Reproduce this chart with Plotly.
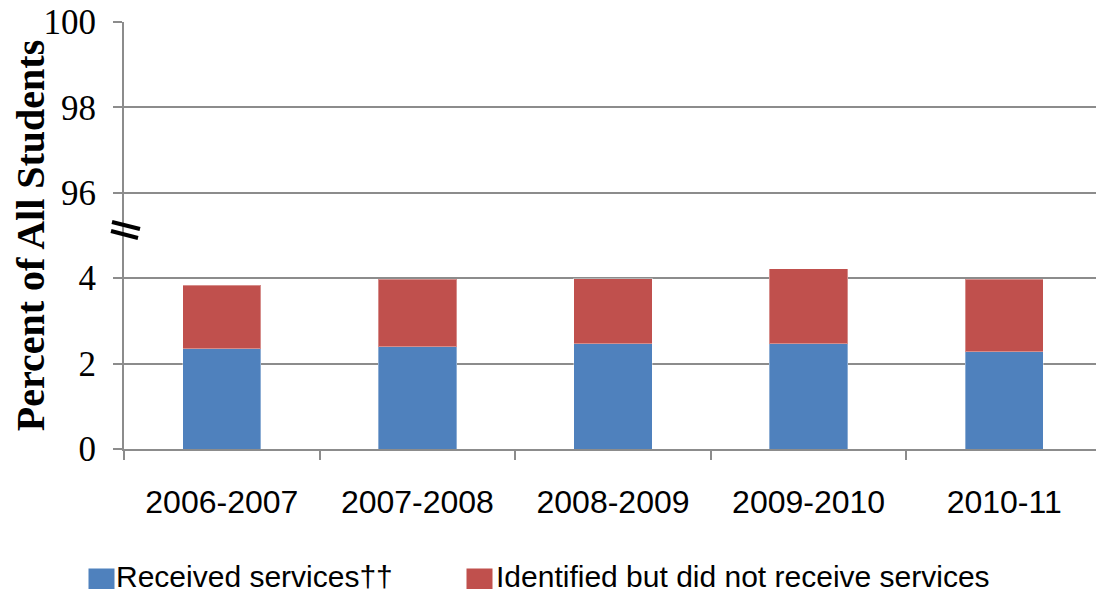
import plotly.graph_objects as go

# school years on the x axis
years = ["2006-2007", "2007-2008", "2008-2009", "2009-2010", "2010-11"]
received = [2.35, 2.40, 2.47, 2.47, 2.28]
not_received = [1.49, 1.58, 1.52, 1.75, 1.70]

names = ["Received services\u2020\u2020", "Identified but did not receive services"]
colors = ["#4F81BD", "#C0504D"]

# broken y axis: 96-100 is drawn just above 0-4
tick_pos = [0, 2, 4, 6, 8, 10]
tick_text = ["0", "2", "4", "96", "98", "100"]
break_at = 5.13

grid = "#8c8c8c"
sans = "Liberation Sans"
serif = "Liberation Serif"

fig = go.Figure()
for vals, name, col in zip([received, not_received], names, colors):
    fig.add_trace(go.Bar(x=years, y=vals, name=name, showlegend=False,
                         marker=dict(color=col, line=dict(color="rgba(255,255,255,0.35)", width=1))))

# page body has an 8px margin, so margins are trimmed by 8
fig.update_layout(
    width=1104, height=589,
    barmode="stack", bargap=0.6,
    plot_bgcolor="white", paper_bgcolor="white",
    margin=dict(l=116, r=10, t=14, b=148),
    showlegend=False,
)

fig.update_xaxes(
    type="category", tickson="boundaries", automargin=False,
    showgrid=False, showline=True, linecolor=grid, linewidth=2,
    ticks="outside", ticklen=9, tickwidth=2, tickcolor=grid,
    ticklabelstandoff=24,
    tickfont=dict(family=sans, size=32, color="black"),
)

fig.update_yaxes(
    range=[0, 10], tickvals=tick_pos, ticktext=tick_text, automargin=False,
    ticklabeloverflow="allow",
    showgrid=True, gridcolor=grid, gridwidth=2,
    showline=True, linecolor=grid, linewidth=2,
    ticks="outside", ticklen=9, tickwidth=2, tickcolor=grid,
    ticklabelstandoff=10, zeroline=False,
    tickfont=dict(family=serif, size=35, color="black"),
    title=dict(text="<b>Percent of All Students</b>", standoff=14,
               font=dict(family=serif, size=40, color="black")),
)

# legend drawn by hand below the chart (colour key + label)
key_x = [-0.023, 0.3635]
label_x = [-0.010, 0.378]
for kx, lx, name, col in zip(key_x, label_x, names, colors):
    fig.add_annotation(x=kx, y=-0.31, xref="paper", yref="paper", text=" ",
                       xanchor="center", yanchor="middle",
                       width=25, height=25, bgcolor=col, borderpad=0,
                       showarrow=False, font=dict(size=2))
    fig.add_annotation(x=lx, y=-0.298, xref="paper", yref="paper", text=name,
                       xanchor="left", yanchor="middle", showarrow=False,
                       font=dict(family=sans, size=30, color="black"))

# axis break mark: two short slanted strokes across the y axis
px = 1 / 978    # one pixel in paper units
py = 10 / 427   # one pixel in y units
for x0, x1, y0, y1 in [(-12, 16, 8, 1), (-13, 14, -1, -8)]:
    fig.add_shape(type="line", xref="paper", yref="y",
                  x0=x0 * px, x1=x1 * px,
                  y0=break_at + y0 * py, y1=break_at + y1 * py,
                  line=dict(color="black", width=4))

fig.write_html("out.html")
